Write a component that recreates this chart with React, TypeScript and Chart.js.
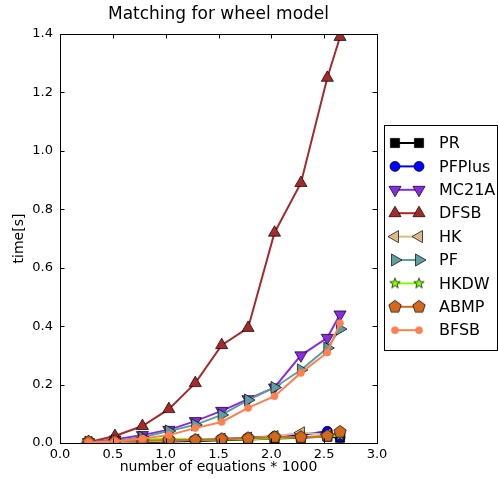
import React, { useEffect, useRef } from 'react';
import { Chart, registerables } from 'chart.js';
import { drawPoint } from 'chart.js/helpers';

Chart.register(...registerables);

// equations (thousands) on the x axis
const sizes = [0.27, 0.52, 0.78, 1.03, 1.28, 1.53, 1.78, 2.03, 2.28, 2.53, 2.65];

const prTimes = [0.001, 0.002, 0.003, 0.005, 0.007, 0.009, 0.012, 0.015, 0.018, 0.022, 0.018];
const pfplusTimes = [0.002, 0.003, 0.005, 0.008, 0.01, 0.014, 0.018, 0.023, 0.027, 0.04, 0.02];
const mc21aTimes = [0.003, 0.012, 0.027, 0.045, 0.075, 0.11, 0.15, 0.19, 0.3, 0.36, 0.44];
const dfsbTimes = [0.003, 0.024, 0.058, 0.116, 0.205, 0.335, 0.394, 0.72, 0.89, 1.25, 1.39];
const hkTimes = [0.002, 0.003, 0.005, 0.008, 0.01, 0.013, 0.017, 0.022, 0.035, 0.03, 0.03];
const pfTimes = [0.003, 0.008, 0.02, 0.041, 0.062, 0.096, 0.147, 0.19, 0.25, 0.325, 0.39];
const hkdwTimes = [0.001, 0.004, 0.012, 0.015, 0.012, 0.012, 0.013, 0.016, 0.02, 0.022, 0.025];
const abmpTimes = [0.004, 0.005, 0.008, 0.01, 0.01, 0.013, 0.016, 0.02, 0.02, 0.024, 0.038];
const bfsbTimes = [0.002, 0.005, 0.015, 0.027, 0.051, 0.072, 0.12, 0.16, 0.24, 0.31, 0.41];

const seriesNames = ['PR', 'PFPlus', 'MC21A', 'DFSB', 'HK', 'PF', 'HKDW', 'ABMP', 'BFSB'];
const seriesValues = [prTimes, pfplusTimes, mc21aTimes, dfsbTimes, hkTimes, pfTimes, hkdwTimes, abmpTimes, bfsbTimes];

const xTicks = [0, 0.5, 1, 1.5, 2, 2.5, 3];
const yTicks = [0, 0.2, 0.4, 0.6, 0.8, 1.0, 1.2, 1.4];

const FONT = "'DejaVu Sans', sans-serif";

// small canvas markers for shapes chart.js doesn't have
function polygonMarker(fill: string, points: number, outer: number, inner?: number) {
  const size = 16;
  const c = document.createElement('canvas');
  c.width = size;
  c.height = size;
  const g = c.getContext('2d')!;
  const n = inner ? points * 2 : points;
  g.beginPath();
  for (let i = 0; i < n; i++) {
    const r = inner && i % 2 === 1 ? inner : outer;
    const a = -Math.PI / 2 + (i * 2 * Math.PI) / n;
    const px = size / 2 + r * Math.cos(a);
    const py = size / 2 + r * Math.sin(a);
    if (i === 0) g.moveTo(px, py);
    else g.lineTo(px, py);
  }
  g.closePath();
  g.fillStyle = fill;
  g.fill();
  g.lineWidth = 0.7;
  g.strokeStyle = '#000';
  g.stroke();
  return c;
}

const colors = ['#000000', '#0000ff', '#8a2be2', '#a52a2a', '#deb887', '#5f9ea0', '#7fff00', '#d2691e', '#ff7f50'];

const App: React.FC = () => {
  const canvasRef = useRef<HTMLCanvasElement | null>(null);

  useEffect(() => {
    document.body.style.margin = '0';
    if (!canvasRef.current) return;
    const ctx = canvasRef.current.getContext('2d');
    if (!ctx) return;

    const pentagon = polygonMarker('#d2691e', 5, 6.5);
    const star = polygonMarker('#7fff00', 5, 5.5, 2.3);

    const styles: any[] = ['rect', 'circle', 'triangle', 'triangle', 'triangle', 'triangle', star, pentagon, 'circle'];
    const rotations = [0, 0, 180, 0, 270, 90, 0, 0, 0];
    const radii = [6.5, 5, 7, 7, 7, 7, 6, 6, 3.5];
    const edges = ['#000', '#000', '#000', '#000', '#000', '#000', '#000', '#000', '#ff7f50'];

    const datasets = seriesNames.map((name, i) => ({
      label: name,
      data: seriesValues[i].map((v, j) => ({ x: sizes[j], y: v })),
      borderColor: colors[i],
      backgroundColor: colors[i],
      borderWidth: 2,
      pointStyle: styles[i],
      pointRotation: rotations[i],
      pointRadius: radii[i],
      pointBackgroundColor: colors[i],
      pointBorderColor: edges[i],
      pointBorderWidth: 0.7,
      order: seriesNames.length - 1 - i,
      tension: 0,
    }));

    const framePlugin = {
      id: 'frame',
      afterDraw(chart: any) {
        const { ctx: c, chartArea: a, scales } = chart;
        c.save();
        c.strokeStyle = '#000';
        c.lineWidth = 1;
        c.strokeRect(Math.round(a.left) + 0.5, Math.round(a.top) + 0.5, Math.round(a.right - a.left), Math.round(a.bottom - a.top));
        c.beginPath();
        xTicks.forEach((t) => {
          const px = Math.round(scales.x.getPixelForValue(t)) + 0.5;
          c.moveTo(px, a.bottom);
          c.lineTo(px, a.bottom - 4.5);
          c.moveTo(px, a.top);
          c.lineTo(px, a.top + 4.5);
        });
        yTicks.forEach((t) => {
          const py = Math.round(scales.y.getPixelForValue(t)) + 0.5;
          c.moveTo(a.left, py);
          c.lineTo(a.left + 4.5, py);
          c.moveTo(a.right, py);
          c.lineTo(a.right - 4.5, py);
        });
        c.stroke();

        // title
        c.fillStyle = '#000';
        c.font = `17px ${FONT}`;
        c.textAlign = 'center';
        c.textBaseline = 'middle';
        c.fillText('Matching for wheel model', (a.left + a.right) / 2, 15);

        // legend
        const bx = 384.5;
        const by = 125.5;
        c.fillStyle = '#fff';
        c.fillRect(bx, by, 113, 225);
        c.strokeRect(bx, by, 113, 225);
        seriesNames.forEach((name, i) => {
          const y = 143 + i * 23.4;
          c.strokeStyle = colors[i];
          c.lineWidth = 2;
          c.beginPath();
          c.moveTo(395, y);
          c.lineTo(419, y);
          c.stroke();
          [395, 419].forEach((x) => {
            c.fillStyle = colors[i];
            c.strokeStyle = edges[i];
            c.lineWidth = 0.7;
            drawPoint(c, { pointStyle: styles[i], rotation: rotations[i], radius: radii[i], borderWidth: 0.7 } as any, x, y);
          });
          c.fillStyle = '#000';
          c.font = `16px ${FONT}`;
          c.textAlign = 'left';
          c.fillText(name, 439, y + 1);
        });
        c.restore();
      },
    };

    const chart = new Chart(ctx, {
      type: 'line',
      data: { datasets },
      options: {
        animation: false,
        responsive: true,
        maintainAspectRatio: false,
        layout: { padding: { top: 34, right: 121, left: 0, bottom: 0 } },
        plugins: {
          legend: { display: false },
          tooltip: { enabled: false },
          title: { display: false },
        },
        scales: {
          x: {
            type: 'linear',
            min: 0,
            max: 3,
            afterFit: (scale: any) => {
              scale.height = 36;
            },
            afterBuildTicks: (scale: any) => {
              scale.ticks = xTicks.map((v) => ({ value: v }));
            },
            grid: { display: false, drawTicks: false },
            border: { display: false },
            ticks: {
              padding: 4,
              color: '#000',
              font: { family: FONT, size: 13 },
              callback: (v: any) => Number(v).toFixed(1),
            },
            title: {
              display: true,
              text: 'number of equations * 1000',
              color: '#000',
              font: { family: FONT, size: 14 },
              padding: { top: 0, bottom: 3 },
            },
          },
          y: {
            type: 'linear',
            min: 0,
            max: 1.4,
            afterFit: (scale: any) => {
              scale.width = 60;
            },
            afterBuildTicks: (scale: any) => {
              scale.ticks = yTicks.map((v) => ({ value: v }));
            },
            grid: { display: false, drawTicks: false },
            border: { display: false },
            ticks: {
              padding: 7,
              color: '#000',
              font: { family: FONT, size: 13 },
              callback: (v: any) => Number(v).toFixed(1),
            },
            title: {
              display: true,
              text: 'time[s]',
              color: '#000',
              font: { family: FONT, size: 14 },
              padding: { top: 11, bottom: 0 },
            },
          },
        },
      },
      plugins: [framePlugin],
    });

    return () => {
      chart.destroy();
    };
  }, []);

  return (
    <div style={{ width: 498, height: 479, position: 'relative' }}>
      <canvas ref={canvasRef} />
    </div>
  );
};

export default App;
